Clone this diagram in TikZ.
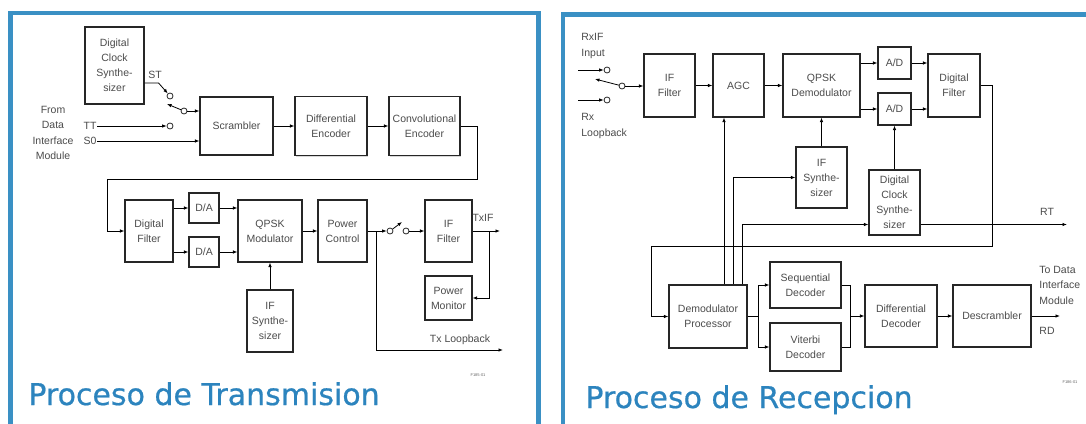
\documentclass[tikz,border=0pt]{standalone}
\usepackage{fontspec}
\setmainfont{Liberation Sans}
\newfontfamily\titlefont[FakeBold=0.6]{DejaVu Sans}
\usetikzlibrary{arrows.meta,calc,shadows}

\definecolor{panelblue}{RGB}{58,144,196}
\definecolor{titleblue}{RGB}{44,132,190}

\tikzset{
  blk/.style 2 args={draw=black!85, line width=1.1pt, fill=white, align=center,
    inner sep=0pt, text=black!70, font=\fontsize{10.5}{15}\selectfont,
    minimum width=#1pt, minimum height=#2pt,
    drop shadow={shadow xshift=1.2pt, shadow yshift=-1.2pt, opacity=.3}},
  sw/.style={circle, draw=black!85, line width=.8pt, fill=white,
    inner sep=0pt, minimum size=6pt},
  lbl/.style={text=black!70, font=\fontsize{10.5}{15.5}\selectfont, inner sep=0pt},
  fno/.style={text=black!60, font=\fontsize{4}{4}\selectfont, inner sep=0pt},
  ttl/.style={text=titleblue, font=\titlefont\fontsize{30}{30}\selectfont,
    inner sep=0pt, anchor=base west}
}

\begin{document}
\begin{tikzpicture}[x=1pt,y=-1pt,>={Latex[length=4.5pt,width=3.5pt]},line width=.8pt]
  \useasboundingbox (0,0) rectangle (1086,423);
  \clip (0,0) rectangle (1086,423);
  \fill[white] (0,0) rectangle (1086,423);

  % the two frames
  \draw[panelblue, line width=4.5pt] (10.5,13) rectangle (538.5,450);
  \draw[panelblue, line width=4.5pt] (563,14.5) rectangle (1100,450);

  % transmit chain
  \node[blk={59}{77}] (dcs) at (114.5,65.5) {Digital\\Clock\\Synthe-\\sizer};
  \node[blk={73}{58}] (scr) at (236.5,126) {Scrambler};
  \node[blk={72}{59}] (denc) at (331,126) {Differential\\Encoder};
  \node[blk={71}{59}] (cenc) at (424.5,126) {Convolutional\\Encoder};
  \node[blk={48}{62}] (dflt) at (149,231) {Digital\\Filter};
  \node[blk={30}{30}] (da1) at (204,208) {D/A};
  \node[blk={30}{30}] (da2) at (204,252) {D/A};
  \node[blk={64}{62}] (qmod) at (270,231) {QPSK\\Modulator};
  \node[blk={46}{62}] (ifs) at (270,321) {IF\\Synthe-\\sizer};
  \node[blk={49}{62}] (pctl) at (342.5,231) {Power\\Control};
  \node[blk={47}{62}] (iff) at (448.5,231) {IF\\Filter};
  \node[blk={47}{44}] (pmon) at (448.5,298) {Power\\Monitor};

  \node[lbl] (st) at (155,75) {ST};
  \node[lbl] (tt) at (90,126) {TT};
  \node[lbl] (s0) at (90,141) {S0};
  \node[lbl, align=center] (from) at (53,133) {From\\Data\\Interface\\Module};
  \node[lbl] (txifl) at (483,218) {TxIF};
  \node[lbl] (txlbl) at (460,340) {Tx Loopback};
  \node[fno] (fno1) at (478,375) {F185-01};

  % switches
  \node[sw] (cst) at (170,96) {};
  \node[sw] (ctt) at (170,126) {};
  \node[sw] (piv) at (184,111) {};
  \node[sw] (pa) at (390,231) {};
  \node[sw] (pb) at (406,231) {};
  \coordinate (arm1) at (167,104);
  \coordinate (arm2) at (402,222);
  \coordinate (ttin) at (97,126);
  \coordinate (s0in) at (97,141);
  \coordinate (lp1) at (477,179);
  \coordinate (lp2) at (107,179);
  \coordinate (br) at (376,231);
  \coordinate (tb) at (489,231);
  \coordinate (txlb) at (503,350);
  \coordinate (txif) at (500,231);

  \begin{scope}[->]
    \draw ($(dcs.east)+(0,17.5)$) -- ++(14,0) -- (cst);
    \draw (piv) -- (arm1);
    \draw (piv) -- (scr.west |- piv);
    \draw (ttin) -- (ctt);
    \draw (s0in) -- (scr.west |- s0in);
    \draw (scr) -- (denc);
    \draw (denc) -- (cenc);
    \draw (cenc.east) -| (lp1) -- (lp2) |- (dflt.west);
    \draw (dflt.east |- da1) -- (da1);
    \draw (dflt.east |- da2) -- (da2);
    \draw (da1) -- (qmod.west |- da1);
    \draw (da2) -- (qmod.west |- da2);
    \draw (ifs) -- (qmod);
    \draw (qmod) -- (pctl);
    \draw (pctl) -- (pa);
    \draw (pa) -- (arm2);
    \draw (pb) -- (iff);
    \draw (iff) -- (txif);
    \draw (tb) |- (pmon.east);
    \draw (br) |- (txlb);
  \end{scope}

  % receive chain
  \node[blk={51}{63}] (rxf) at (669.5,85.5) {IF\\Filter};
  \node[blk={51}{63}] (agc) at (738.5,85.5) {AGC};
  \node[blk={77}{63}] (qdem) at (821.5,85.5) {QPSK\\Demodulator};
  \node[blk={33}{32}] (ad1) at (894.5,63) {A/D};
  \node[blk={33}{32}] (ad2) at (894.5,109) {A/D};
  \node[blk={52}{63}] (rdf) at (954,85.5) {Digital\\Filter};
  \node[blk={51}{61}] (rifs) at (821.5,177.5) {IF\\Synthe-\\sizer};
  \node[blk={51}{65}] (rdcs) at (894.5,202.5) {Digital\\Clock\\Synthe-\\sizer};
  \node[blk={78}{63}] (dproc) at (708,316.5) {Demodulator\\Processor};
  \node[blk={71}{46}] (seqd) at (805.5,285) {Sequential\\Decoder};
  \node[blk={71}{48}] (vitd) at (805.5,347) {Viterbi\\Decoder};
  \node[blk={72}{62}] (ddec) at (901,316) {Differential\\Decoder};
  \node[blk={78}{62}] (dscr) at (992,316) {Descrambler};

  \node[lbl, align=left, anchor=west] (rxifl) at (581,46) {RxIF\\Input};
  \node[lbl, align=left, anchor=west] (rxlbl) at (581,126) {Rx\\Loopback};
  \node[lbl] (rtl) at (1047,212) {RT};
  \node[lbl, align=left, anchor=west] (todim) at (1039,285) {To Data\\Interface\\Module};
  \node[lbl] (rdl) at (1047,331) {RD};
  \node[fno] (fno2) at (1070,382) {F186-01};

  \node[sw] (rin1) at (607,70) {};
  \node[sw] (rin2) at (607,100) {};
  \node[sw] (rpiv) at (622,86) {};
  \coordinate (arm3) at (595,79);
  \coordinate (in1) at (578,70);
  \coordinate (in2) at (578,100);
  \coordinate (fb1) at (992,246);
  \coordinate (fb2) at (651,246);
  \coordinate (up1) at ($(dproc.north)+(16,0)$);
  \coordinate (up2) at ($(dproc.north)+(25,0)$);
  \coordinate (up3) at ($(dproc.north)+(34,0)$);
  \coordinate (mrg) at (850,316);
  \coordinate (rtout) at (1067,224.5);
  \coordinate (rdout) at (1060,316);

  \begin{scope}[->]
    \draw (in1) -- (rin1);
    \draw (in2) -- (rin2);
    \draw (rpiv) -- (arm3);
    \draw (rpiv) -- (rxf.west |- rpiv);
    \draw (rxf) -- (agc);
    \draw (agc) -- (qdem);
    \draw (qdem.east |- ad1) -- (ad1);
    \draw (qdem.east |- ad2) -- (ad2);
    \draw (ad1) -- (rdf.west |- ad1);
    \draw (ad2) -- (rdf.west |- ad2);
    \draw (rdf.east) -| (fb1) -- (fb2) |- (dproc.west);
    \draw (up1) -- (up1 |- agc.south);
    \draw (up2) |- (rifs.west);
    \draw (up3) |- ($(rdcs.west)+(0,22)$);
    \draw (rifs) -- (qdem);
    \draw (rdcs) -- (ad2);
    \draw ($(rdcs.east)+(0,22)$) -- (rtout);
    \draw (dproc.east) -- ++(11,0) |- (seqd.west);
    \draw (dproc.east) -- ++(11,0) |- (vitd.west);
    \draw[-] (seqd.east) -| (mrg) |- (vitd.east);
    \draw (mrg) -- (ddec);
    \draw (ddec) -- (dscr);
    \draw (dscr) -- (rdout);
  \end{scope}

  % titles
  \node[ttl] (t1) at (28,405) {Proceso de Transmision};
  \node[ttl] (t2) at (585,408) {Proceso de Recepcion};
\end{tikzpicture}
\end{document}
